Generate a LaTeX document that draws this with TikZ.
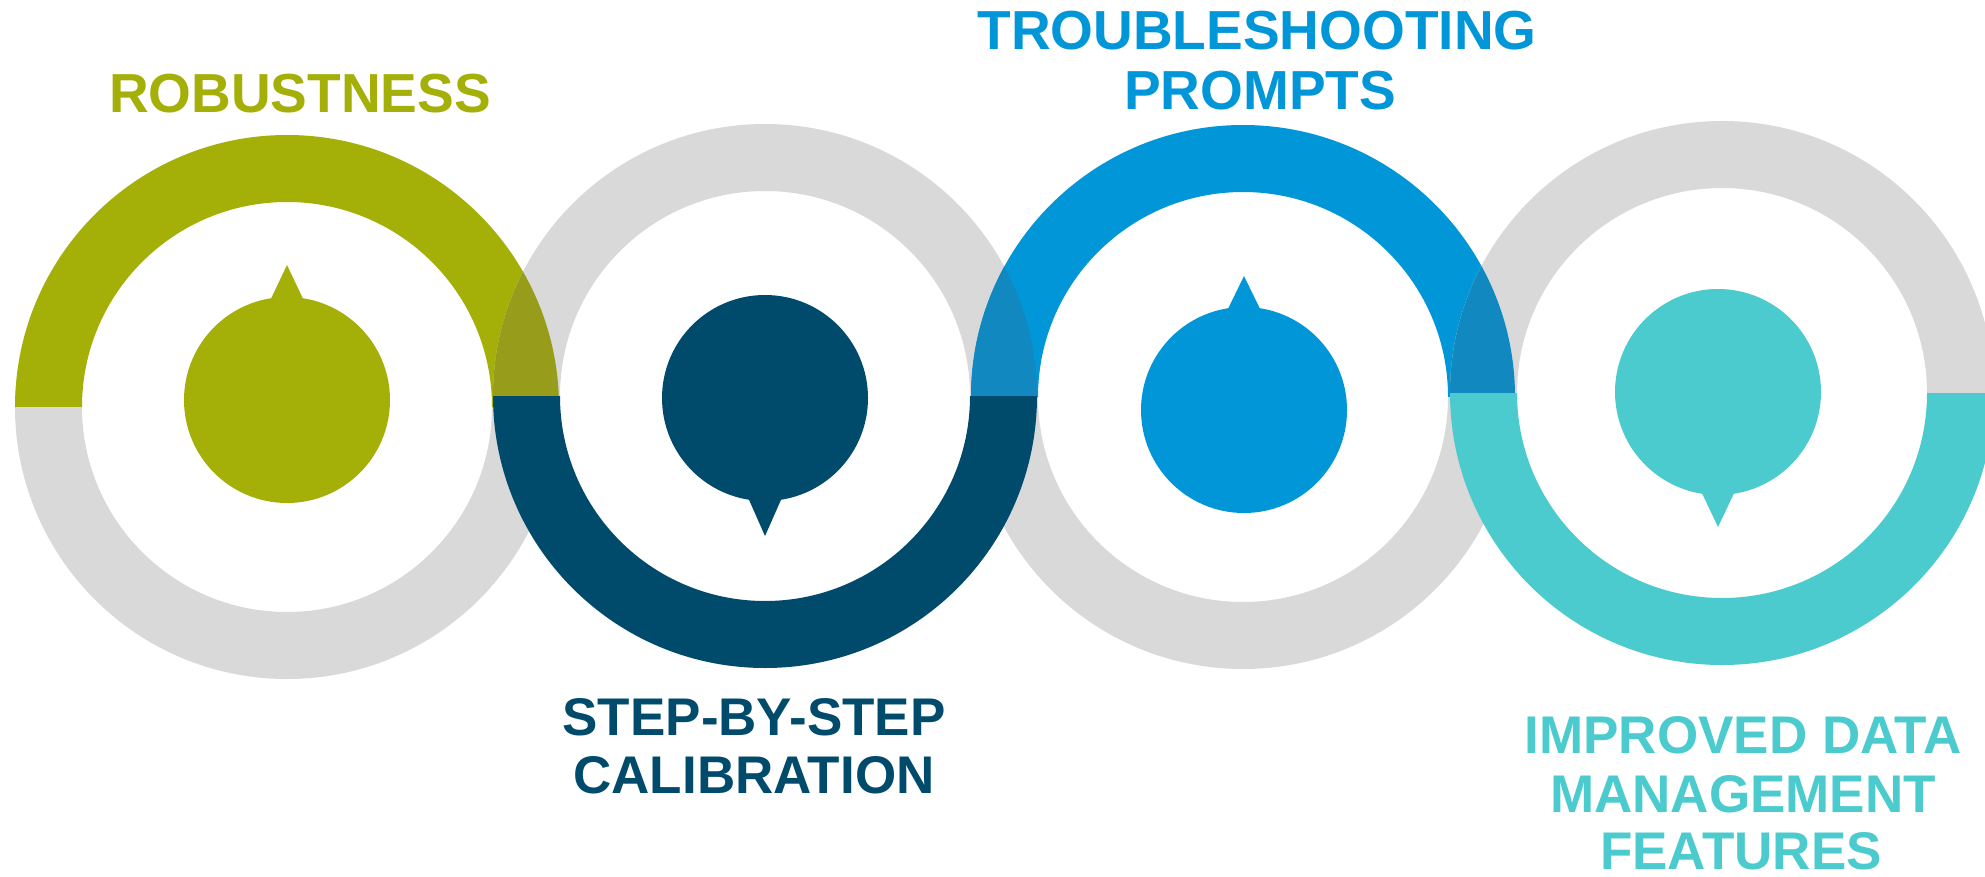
\documentclass[tikz,border=0pt]{standalone}
\usepackage{fontspec}
\setmainfont{Liberation Sans}
\definecolor{cgreen}{HTML}{A4B007}
\definecolor{cnavy}{HTML}{004B6B}
\definecolor{cblue}{HTML}{0096D8}
\definecolor{cteal}{HTML}{4BCBCD}
\definecolor{cgray}{HTML}{D9D9D9}
\definecolor{colive}{HTML}{979C1A}
\definecolor{cblueblend}{HTML}{1189C0}
\begin{document}
\begin{tikzpicture}[x=1pt,y=-1pt,
  lbl/.style={font=\bfseries\fontsize{11}{12}\selectfont, inner sep=0pt, anchor=base, scale=5, transform shape},
  lblsm/.style={font=\bfseries\fontsize{10.6}{12}\selectfont, inner sep=0pt, anchor=base, scale=5, transform shape}]
\useasboundingbox[fill=white] (0,0) rectangle (1985,877);
\clip (0,0) rectangle (1985,877);
\coordinate (c1) at (287,407);
\coordinate (c2) at (765,396);
\coordinate (c3) at (1243,397);
\coordinate (c4) at (1722,393);
% top halves
\begin{scope}\clip (0,0) rectangle (1985,407);
  \fill[cgreen, even odd rule] (c1) circle[radius=272pt] (c1) circle[radius=205pt];\end{scope}
\begin{scope}\clip (0,0) rectangle (1985,396);
  \fill[cgray, even odd rule] (c2) circle[radius=272pt] (c2) circle[radius=205pt];\end{scope}
\begin{scope}\clip (0,0) rectangle (1985,397);
  \fill[cblue, even odd rule] (c3) circle[radius=272pt] (c3) circle[radius=205pt];\end{scope}
\begin{scope}\clip (0,0) rectangle (1985,393);
  \fill[cgray, even odd rule] (c4) circle[radius=272pt] (c4) circle[radius=205pt];\end{scope}
% overlaps of top halves
\begin{scope}[even odd rule]\clip (0,0) rectangle (1985,396);
  \clip (c1) circle[radius=272pt] (c1) circle[radius=205pt];
  \fill[colive] (c2) circle[radius=272pt] (c2) circle[radius=205pt];\end{scope}
\begin{scope}[even odd rule]\clip (0,0) rectangle (1985,396);
  \clip (c2) circle[radius=272pt] (c2) circle[radius=205pt];
  \fill[cblueblend] (c3) circle[radius=272pt] (c3) circle[radius=205pt];\end{scope}
\begin{scope}[even odd rule]\clip (0,0) rectangle (1985,393);
  \clip (c3) circle[radius=272pt] (c3) circle[radius=205pt];
  \fill[cblueblend] (c4) circle[radius=272pt] (c4) circle[radius=205pt];\end{scope}
% bottom halves: gray first, coloured on top
\begin{scope}\clip (0,407) rectangle (1985,877);
  \fill[cgray, even odd rule] (c1) circle[radius=272pt] (c1) circle[radius=205pt];\end{scope}
\begin{scope}\clip (0,397) rectangle (1985,877);
  \fill[cgray, even odd rule] (c3) circle[radius=272pt] (c3) circle[radius=205pt];\end{scope}
\begin{scope}\clip (0,396) rectangle (1985,877);
  \fill[cnavy, even odd rule] (c2) circle[radius=272pt] (c2) circle[radius=205pt];\end{scope}
\begin{scope}\clip (0,393) rectangle (1985,877);
  \fill[cteal, even odd rule] (c4) circle[radius=272pt] (c4) circle[radius=205pt];\end{scope}
% speech blobs
\coordinate (b1) at (287,400);
\coordinate (b2) at (765,398);
\coordinate (b3) at (1244,410);
\coordinate (b4) at (1718,392);
\fill[cgreen] (b1) circle[radius=103pt];
\fill[cgreen] (b1) ++(-19,-95) -- ++(19,-40) -- ++(19,40) -- cycle;
\fill[cnavy] (b2) circle[radius=103pt];
\fill[cnavy] (b2) ++(-19,95) -- ++(19,43) -- ++(19,-43) -- cycle;
\fill[cblue] (b3) circle[radius=103pt];
\fill[cblue] (b3) ++(-19,-95) -- ++(19,-39) -- ++(19,39) -- cycle;
\fill[cteal] (b4) circle[radius=103pt];
\fill[cteal] (b4) ++(-19,95) -- ++(19,40) -- ++(19,-40) -- cycle;
% labels
\node[lbl, text=cgreen] (t1) at (300,113) {ROBUSTNESS};
\node[lbl, text=cblue] (t3a) at (1257,50) {TROUBLESHOOTING};
\node[lbl, text=cblue] (t3b) at (1260,110) {PROMPTS};
\node[lblsm, text=cnavy] (t2a) at (754,735) {STEP-BY-STEP};
\node[lblsm, text=cnavy] (t2b) at (754,793) {CALIBRATION};
\node[lblsm, text=cteal] (t4a) at (1743,753) {IMPROVED DATA};
\node[lblsm, text=cteal] (t4b) at (1743,812) {MANAGEMENT};
\node[lblsm, text=cteal] (t4c) at (1741,869) {FEATURES};
\end{tikzpicture}
\end{document}
